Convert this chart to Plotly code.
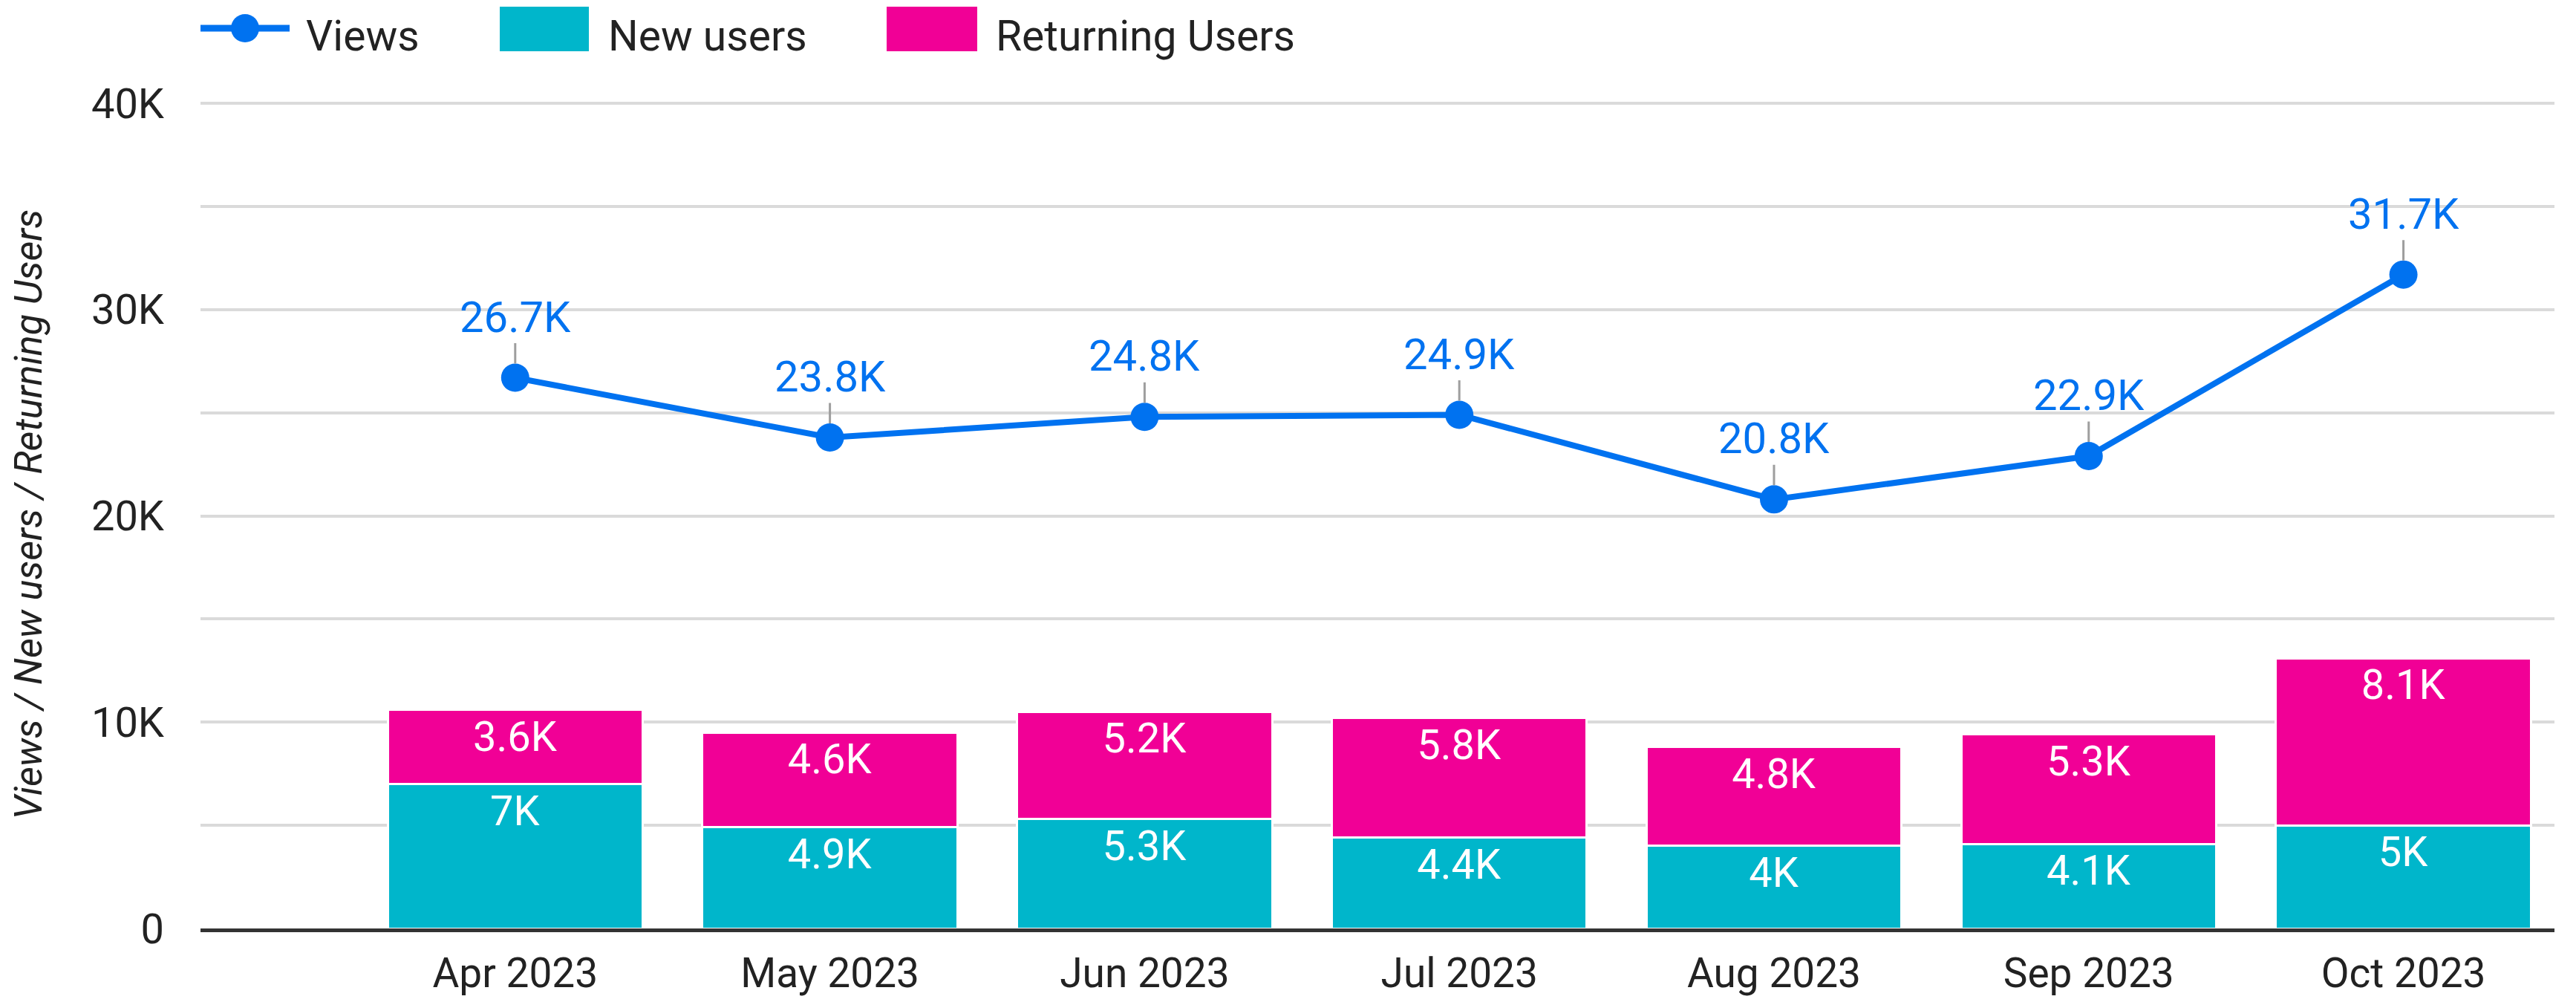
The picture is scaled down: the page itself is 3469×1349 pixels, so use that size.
import plotly.graph_objects as go

months = ["Apr 2023", "May 2023", "Jun 2023", "Jul 2023", "Aug 2023", "Sep 2023", "Oct 2023"]
views = [26700, 23800, 24800, 24900, 20800, 22900, 31700]
new_users = [7000, 4900, 5300, 4400, 4000, 4100, 5000]
returning_users = [3600, 4600, 5200, 5800, 4800, 5300, 8100]
y_tickvals = [0, 10000, 20000, 30000, 40000]
y_ticktext = ["0", "10K", "20K", "30K", "40K"]

BLUE = "#0072F0"
TEAL = "#00B6CB"
PINK = "#F10096"
FONT = "Roboto"

OFF = 8  # default page body margin
W, H = 3469 - 2 * OFF, 1349 - 2 * OFF
L, R, T, B = 270 - OFF, 3469 - 3440 - OFF, 135 - OFF, 1349 - 1250 - OFF


def fmt(v):
    s = f"{v / 1000:.1f}"
    if s.endswith(".0"):
        s = s[:-2]
    return s + "K"


def px(x):
    # page pixel -> paper
    return (x - OFF - L) / (W - L - R)


def py(y):
    return (H - B - (y - OFF)) / (H - T - B)


fig = go.Figure()

fig.add_trace(go.Bar(
    x=months, y=new_users, name="New users",
    marker=dict(color=TEAL, line=dict(color="white", width=3)),
    text=[fmt(v) for v in new_users], textposition="inside", insidetextanchor="end",
    textangle=0, constraintext="none",
    textfont=dict(family=FONT, size=56, color="white"),
    width=0.81, showlegend=False,
))
fig.add_trace(go.Bar(
    x=months, y=returning_users, name="Returning Users",
    marker=dict(color=PINK, line=dict(color="white", width=3)),
    text=[fmt(v) for v in returning_users], textposition="inside", insidetextanchor="end",
    textangle=0, constraintext="none",
    textfont=dict(family=FONT, size=56, color="white"),
    width=0.81, showlegend=False,
))
fig.add_trace(go.Scatter(
    x=months, y=views, name="Views", mode="lines+markers",
    line=dict(color=BLUE, width=8),
    marker=dict(color=BLUE, size=38),
    showlegend=False,
))

annotations = []
for m, v in zip(months, views):
    annotations.append(dict(
        x=m, y=v, xref="x", yref="y", text=fmt(v),
        showarrow=True, arrowhead=0, arrowwidth=3, arrowcolor="#9E9E9E",
        ax=0, ay=-82, standoff=19,
        font=dict(family=FONT, size=58, color=BLUE),
    ))

# legend (custom, to match large symbols)
shapes = [
    dict(type="line", xref="paper", yref="paper", x0=px(270), x1=px(390), y0=py(38), y1=py(38),
         line=dict(color=BLUE, width=9)),
    dict(type="circle", xref="paper", yref="paper", x0=px(311), x1=px(349), y0=py(19), y1=py(57),
         fillcolor=BLUE, line=dict(color=BLUE, width=0)),
    dict(type="rect", xref="paper", yref="paper", x0=px(673), x1=px(793), y0=py(9), y1=py(69),
         fillcolor=TEAL, line=dict(width=0)),
    dict(type="rect", xref="paper", yref="paper", x0=px(1194), x1=px(1316), y0=py(9), y1=py(69),
         fillcolor=PINK, line=dict(width=0)),
]
for label, xl in [("Views", 410), ("New users", 817), ("Returning Users", 1339)]:
    annotations.append(dict(
        x=px(xl), y=py(48), xref="paper", yref="paper", text=label, showarrow=False,
        xanchor="left", yanchor="middle",
        font=dict(family=FONT, size=57, color="#222222"),
    ))

fig.update_layout(
    width=W, height=H,
    margin=dict(l=L, r=R, t=T, b=B, autoexpand=False),
    paper_bgcolor="white", plot_bgcolor="white",
    barmode="stack", bargap=0.19,
    shapes=shapes, annotations=annotations,
    font=dict(family=FONT, color="#222222"),
)
fig.update_xaxes(
    type="category", range=[-1.0, 6.48],
    showline=True, linecolor="#333333", linewidth=5,
    showgrid=False, ticks="", ticklabelstandoff=8,
    tickfont=dict(family=FONT, size=55, color="#222222"),
    automargin=False,
)
fig.update_yaxes(
    range=[0, 40150], tickvals=y_tickvals, ticktext=y_ticktext,
    showgrid=True, gridcolor="#DADADA", gridwidth=4,
    minor=dict(dtick=5000, tick0=0, showgrid=True, gridcolor="#DADADA", gridwidth=4),
    zeroline=False, showline=False, ticks="", ticklabelstandoff=48,
    tickfont=dict(family=FONT, size=56, color="#222222"),
    title=dict(text="Views / New users / Returning Users", standoff=50,
               font=dict(family=FONT, size=52, color="#222222", style="italic")),
    automargin=False,
)

fig.write_html("out.html")
